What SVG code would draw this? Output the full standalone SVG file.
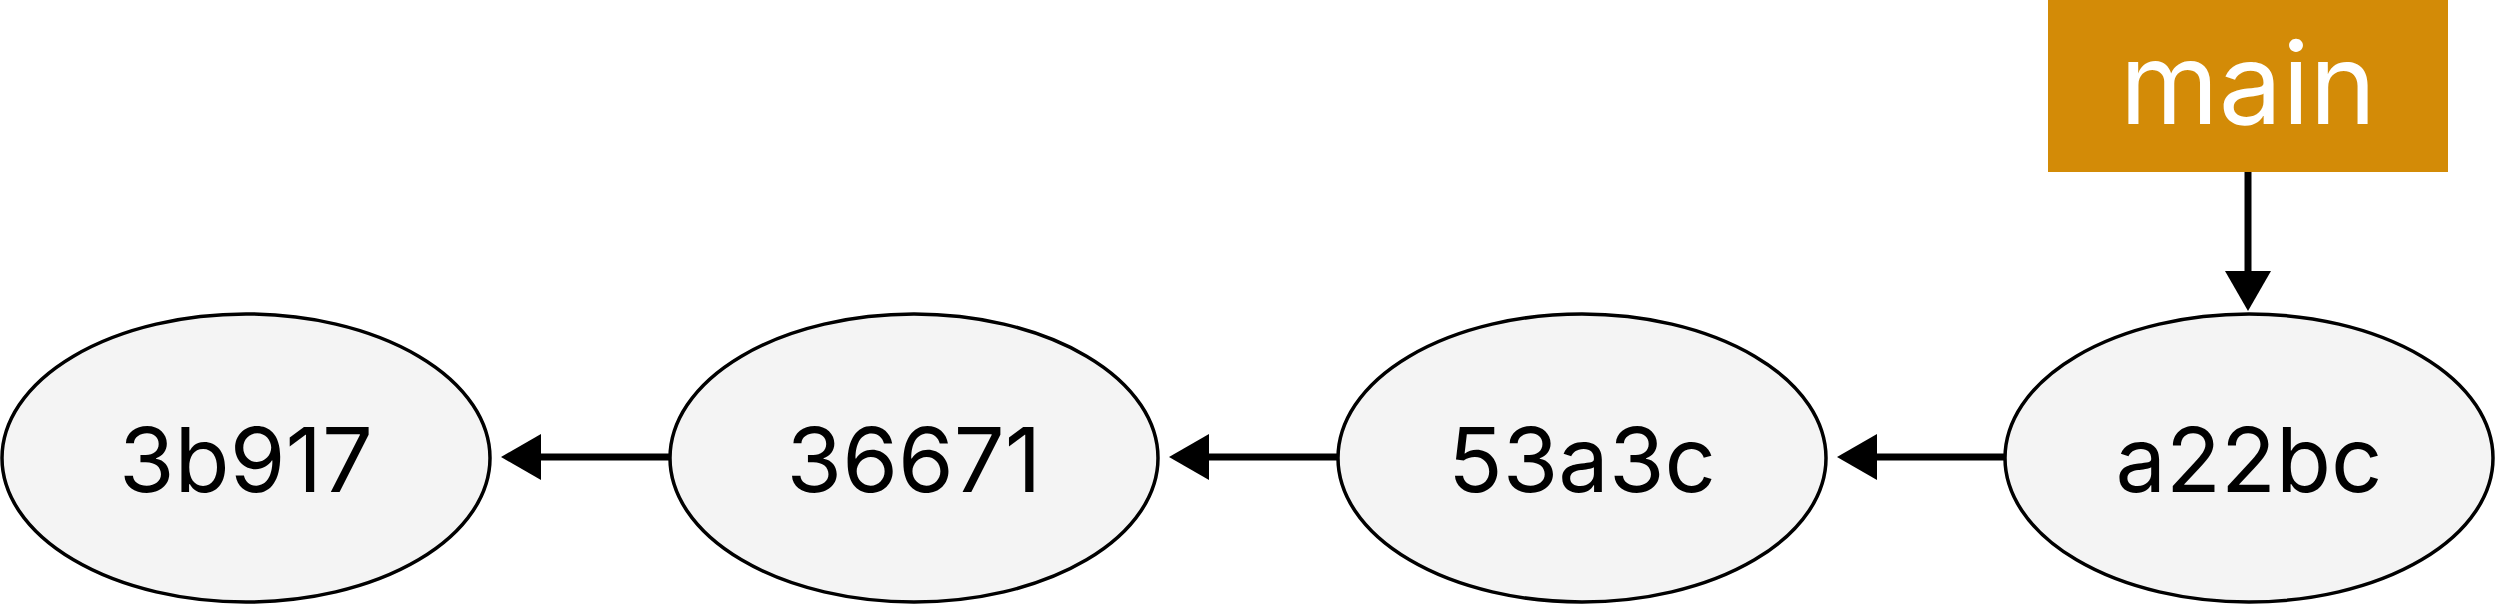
<svg xmlns="http://www.w3.org/2000/svg" width="2496" height="604" viewBox="0 0 2496 604">
<style>
.commit{fill:#F4F4F4;stroke:#000;stroke-width:3.5}
.lbl{font-family:Inter,"Liberation Sans",sans-serif;font-size:90px;fill:#000;text-anchor:middle}
.br{fill:#D38B07}
.brl{font-family:Inter,"Liberation Sans",sans-serif;font-size:113px;fill:#fff;text-anchor:middle}
.edge{stroke:#000;stroke-width:7;fill:none}
</style>
<defs>
<marker id="ah" viewBox="0 0 40 46" refX="1" refY="23" markerWidth="40" markerHeight="46" markerUnits="userSpaceOnUse" orient="auto">
<path d="M0,0 L40,23 L0,46 Z" fill="#000"/>
</marker>
</defs>
<rect width="2496" height="604" fill="#fff"/>
<g id="connectors">
<line class="edge" x1="669" y1="457" x2="540" y2="457" marker-end="url(#ah)"/>
<line class="edge" x1="1337" y1="457" x2="1208" y2="457" marker-end="url(#ah)"/>
<line class="edge" x1="2005" y1="457" x2="1876" y2="457" marker-end="url(#ah)"/>
<line class="edge" x1="2248" y1="172" x2="2248" y2="272" marker-end="url(#ah)"/>
</g>
<g id="c3b917"><ellipse class="commit" cx="246" cy="458" rx="244" ry="144"/><text class="lbl" x="246" y="492">3b917</text></g>
<g id="c36671"><ellipse class="commit" cx="914" cy="458" rx="244" ry="144"/><text class="lbl" x="914" y="492">36671</text></g>
<g id="c53a3c"><ellipse class="commit" cx="1582" cy="458" rx="244" ry="144"/><text class="lbl" x="1582" y="492">53a3c</text></g>
<g id="ca22bc"><ellipse class="commit" cx="2249" cy="458" rx="244" ry="144"/><text class="lbl" x="2249" y="492">a22bc</text></g>
<g id="main"><rect class="br" x="2048" y="0" width="400" height="172"/><text class="brl" x="2248" y="124">main</text></g>
</svg>
